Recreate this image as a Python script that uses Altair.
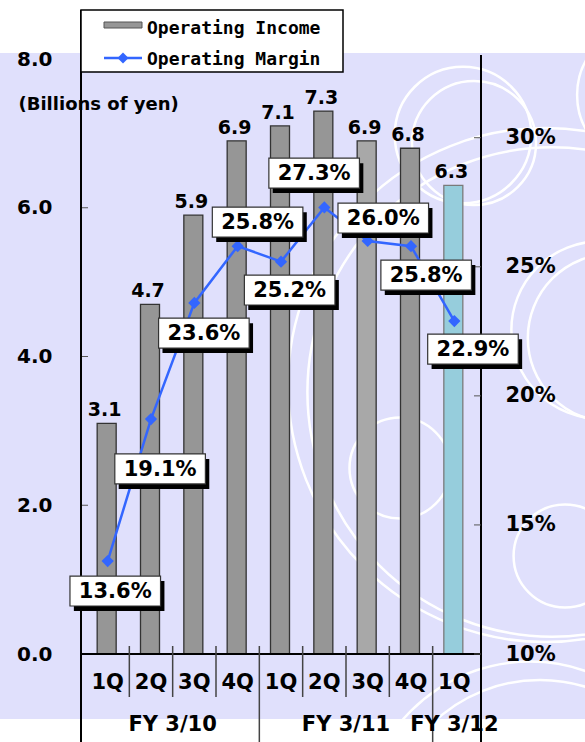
import altair as alt
import pandas as pd

# ---------------- data ----------------
quarters = ["1Q", "2Q", "3Q", "4Q", "1Q", "2Q", "3Q", "4Q", "1Q"]
fiscal_years = ["FY 3/10"] * 4 + ["FY 3/11"] * 4 + ["FY 3/12"]
income = [3.1, 4.7, 5.9, 6.9, 7.1, 7.3, 6.9, 6.8, 6.3]
margin = [13.6, 19.1, 23.6, 25.8, 25.2, 27.3, 26.0, 25.8, 22.9]
bar_kind = ["a", "a", "a", "a", "a", "a", "b", "a", "c"]
left_ticks = [0, 2, 4, 6, 8]
right_ticks = [10, 15, 20, 25, 30]

# layout only: centre of each margin call-out box (x in bar-index units, y in % units)
label_x = [0.175, 1.21, 2.22, 3.46, 4.20, 4.765, 6.36, 7.35, 8.43]
label_y = [12.44, 17.17, 22.43, 26.73, 24.10, 28.63, 26.89, 24.68, 21.81]

df = pd.DataFrame({
    "idx": list(range(len(quarters))),
    "quarter": quarters,
    "fy": fiscal_years,
    "income": income,
    "margin": margin,
    "kind": bar_kind,
    "lx": label_x,
    "ly": label_y,
})

sep_rows = []
for i in range(len(quarters) - 1):
    sep_rows.append({"pos": i + 0.5, "long": fiscal_years[i] != fiscal_years[i + 1]})
sep_df = pd.DataFrame(sep_rows)

FONT = "DejaVu Sans"
W, H = 400, 595
LAV = "#E0E0FC"
BLUE = "#3366FF"

xs = alt.Scale(domain=[-0.5, len(quarters) - 0.5], nice=False, zero=False)
yL = alt.Scale(domain=[0, 8], nice=False, zero=True)
yR = alt.Scale(domain=[10, 33.05], nice=False, zero=False)

X = alt.X("idx:Q", scale=xs, axis=None)

base = alt.Chart(df)
one = pd.DataFrame({"a": [0]})

# ---------------- background ----------------
bg = alt.Chart(one).mark_rect(color=LAV).encode(
    x=alt.value(-81), x2=alt.value(504), y=alt.value(-6), y2=alt.value(660)
)

# decorative white swirls (absolute px: cx, cy, r)
circles = [(463, 135, 77), (474, 143, 70), (648, 95, 80), (400, 468, 57),
           (565, 556, 58), (600, 330, 100), (612, 338, 95),
           (545, 385, 290), (552, 392, 276), (530, 830, 190), (540, 835, 175)]
decor = []
for cx, cy, r in circles:
    decor.append(
        alt.Chart(one).mark_point(
            shape="circle", filled=False, stroke="white", strokeWidth=2.5, opacity=1
        ).encode(x=alt.value(cx - 81), y=alt.value(cy - 59), size=alt.value(3.14159 * r * r))
    )

# ---------------- frame / category axis ----------------
baseline = alt.Chart(one).mark_rule(color="black", strokeWidth=2).encode(
    x=alt.value(0), x2=alt.value(W), y=alt.value(H))
lline = alt.Chart(one).mark_rule(color="black", strokeWidth=2).encode(
    x=alt.value(0), y=alt.value(-49), y2=alt.value(683))
rline = alt.Chart(one).mark_rule(color="black", strokeWidth=2).encode(
    x=alt.value(W), y=alt.value(-4), y2=alt.value(683))
sep_short = alt.Chart(sep_df).transform_filter("!datum.long").mark_rule(
    color="#444", strokeWidth=1.5).encode(
    x=alt.X("pos:Q", scale=xs, axis=None), y=alt.value(587), y2=alt.value(638))
sep_long = alt.Chart(sep_df).transform_filter("datum.long").mark_rule(
    color="#444", strokeWidth=1.5).encode(
    x=alt.X("pos:Q", scale=xs, axis=None), y=alt.value(587), y2=alt.value(683))
qlabels = base.mark_text(font=FONT, fontSize=21, fontWeight="bold", color="black",
                         baseline="middle").encode(x=X, y=alt.value(624), text="quarter:N")
fylabels = base.transform_aggregate(c="mean(idx)", groupby=["fy"]).mark_text(
    font=FONT, fontSize=21, fontWeight="bold", color="black", baseline="middle").encode(
    x=alt.X("c:Q", scale=xs, axis=None), y=alt.value(666), text="fy:N")

# ---------------- legend ----------------
lg_box = alt.Chart(one).mark_rect(fill="white", stroke="black", strokeWidth=1.5).encode(
    x=alt.value(0), x2=alt.value(262), y=alt.value(-49), y2=alt.value(13))
lg_sw = alt.Chart(one).mark_rect(fill="#969696", stroke="#555", strokeWidth=1).encode(
    x=alt.value(23), x2=alt.value(61), y=alt.value(-37), y2=alt.value(-31))
lg_line = alt.Chart(one).mark_rule(color=BLUE, strokeWidth=2.5).encode(
    x=alt.value(23), x2=alt.value(61), y=alt.value(-1))
lg_pt = alt.Chart(one).mark_point(shape="diamond", filled=True, size=120, color=BLUE, opacity=1).encode(
    x=alt.value(42), y=alt.value(-1))
lg_t1 = alt.Chart(one).mark_text(font="DejaVu Sans Mono", fontSize=18, fontWeight="bold",
                                 align="left", baseline="middle", color="black",
                                 text="Operating Income").encode(
    x=alt.value(66), y=alt.value(-30))
lg_t2 = alt.Chart(one).mark_text(font="DejaVu Sans Mono", fontSize=18, fontWeight="bold",
                                 align="left", baseline="middle", color="black",
                                 text="Operating Margin").encode(
    x=alt.value(66), y=alt.value(1))

# ---------------- left (income) ----------------
bars = base.mark_bar(size=19, strokeWidth=1.3, xOffset=-1).encode(
    x=X,
    y=alt.Y("income:Q", scale=yL, axis=alt.Axis(
        orient="left", values=left_ticks, format=".1f", domain=False, ticks=False,
        grid=False, labelFont=FONT, labelFontSize=20, labelFontWeight="bold",
        labelColor="black", labelPadding=29, zindex=2,
        title="(Billions of yen)", titleAngle=0, titleX=-63, titleY=45,
        titleAlign="left", titleBaseline="middle", titleFont=FONT,
        titleFontSize=18, titleFontWeight="bold", titleColor="black")),
    fill=alt.Fill("kind:N", scale=alt.Scale(domain=["a", "b", "c"],
                  range=["#969696", "#A8A8A8", "#96CDDC"]), legend=None),
    stroke=alt.Stroke("kind:N", scale=alt.Scale(domain=["a", "b", "c"],
                      range=["#333333", "#333333", "#7A7A7A"]), legend=None),
)
bar_labels = base.mark_text(font=FONT, fontSize=19, fontWeight="bold", color="black",
                            baseline="alphabetic", dy=-7, dx=-3).encode(
    x=X, y=alt.Y("income:Q", scale=yL, axis=None),
    text=alt.Text("income:Q", format=".1f"))
lticks = alt.Chart(pd.DataFrame({"income": left_ticks})).mark_rule(color="#555", strokeWidth=1).encode(
    x=alt.value(0), x2=alt.value(7), y=alt.Y("income:Q", scale=yL, axis=None))

# ---------------- right (margin) ----------------
line = base.mark_line(color=BLUE, strokeWidth=2.5).encode(
    x=X,
    y=alt.Y("margin:Q", scale=yR, axis=alt.Axis(
        orient="right", values=right_ticks, labelExpr="datum.value + '%'",
        domain=False, ticks=False, grid=False, labelFont=FONT, labelFontSize=21,
        labelFontWeight="bold", labelColor="black", labelPadding=24, title=None,
        zindex=2)))
pts = base.mark_point(shape="diamond", filled=True, size=150, color=BLUE, opacity=1).encode(
    x=X, y=alt.Y("margin:Q", scale=yR, axis=None))
rticks = alt.Chart(pd.DataFrame({"margin": right_ticks})).mark_rule(color="#555", strokeWidth=1).encode(
    x=alt.value(W - 7), x2=alt.value(W), y=alt.Y("margin:Q", scale=yR, axis=None))

# box half-size and shadow shift (converted from px to data units)
boxes_base = base.transform_calculate(
    x0="datum.lx - 1.045", x1="datum.lx + 1.045",
    y0="datum.ly - 0.58", y1="datum.ly + 0.58",
    sx0="datum.lx - 1.045 + 0.09", sx1="datum.lx + 1.045 + 0.09",
    sy0="datum.ly - 0.58 - 0.194", sy1="datum.ly + 0.58 - 0.194",
    lab="format(datum.margin, '.1f') + '%'")
shadow = boxes_base.mark_rect(color="black").encode(
    x=alt.X("sx0:Q", scale=xs, axis=None), x2="sx1:Q",
    y=alt.Y("sy0:Q", scale=yR, axis=None), y2="sy1:Q")
box = boxes_base.mark_rect(fill="white", stroke="#333", strokeWidth=1.2).encode(
    x=alt.X("x0:Q", scale=xs, axis=None), x2="x1:Q",
    y=alt.Y("y0:Q", scale=yR, axis=None), y2="y1:Q")
box_text = boxes_base.mark_text(font=FONT, fontSize=21, fontWeight="bold", color="black",
                                baseline="middle", dy=1).encode(
    x=alt.X("lx:Q", scale=xs, axis=None), y=alt.Y("ly:Q", scale=yR, axis=None), text="lab:N")

chart = alt.layer(
    bg, *decor,
    bars, bar_labels, lticks,
    baseline, lline, rline, sep_short, sep_long, qlabels, fylabels,
    lg_box, lg_sw, lg_line, lg_pt, lg_t1, lg_t2,
    line, pts, rticks, shadow, box, box_text,
).resolve_scale(y="independent").properties(
    width=W, height=H,
    autosize=alt.AutoSizeParams(type="none"),
    padding={"left": 81, "top": 59, "right": 104, "bottom": 88},
    background="white",
).configure_view(stroke=None)

chart.save("out.html", embed_options={"renderer": "svg", "actions": False})
